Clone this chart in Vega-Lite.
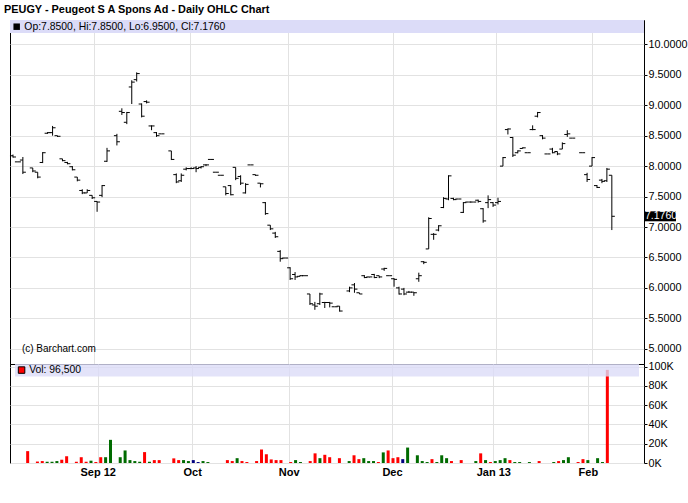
{
  "$schema": "https://vega.github.io/schema/vega-lite/v6.json",
  "padding": {"left": 4, "top": 3, "right": 0, "bottom": 0},
  "spacing": 0,
  "bounds": "flush",
  "title": {"text": "PEUGY - Peugeot S A Spons Ad - Daily OHLC Chart", "anchor": "start", "frame": "group", "dx": -6, "fontSize": 10.9, "fontWeight": "bold", "font": "Liberation Sans", "color": "#000", "offset": 5},
  "config": {
    "view": {"stroke": "#000", "strokeWidth": 1},
    "axis": {"labelFont": "Liberation Sans", "labelColor": "#000", "gridColor": "#e2e2e2", "gridWidth": 1, "tickColor": "#000", "domain": false, "title": null, "labelOverlap": false, "labelBound": false},
    "text": {"font": "Liberation Sans"}
  },
  "datasets": {
    "ohlc": [
      {"t":0,"o":8.17,"h":8.19,"l":8.14,"c":8.15},
      {"t":1,"o":8.07,"h":8.07,"l":8.07,"c":8.07},
      {"t":2,"o":8.10,"h":8.15,"l":7.87,"c":7.90},
      {"t":4,"o":7.97,"h":7.97,"l":7.90,"c":7.92},
      {"t":5,"o":7.90,"h":7.90,"l":7.80,"c":7.82},
      {"t":6,"o":8.06,"h":8.23,"l":8.05,"c":8.22},
      {"t":7,"o":8.54,"h":8.56,"l":8.53,"c":8.55},
      {"t":8,"o":8.55,"h":8.66,"l":8.50,"c":8.63},
      {"t":9,"o":8.50,"h":8.50,"l":8.48,"c":8.49},
      {"t":10,"o":8.12,"h":8.12,"l":8.08,"c":8.09},
      {"t":11,"o":8.06,"h":8.07,"l":8.03,"c":8.04},
      {"t":12,"o":7.99,"h":8.00,"l":7.93,"c":7.94},
      {"t":13,"o":7.82,"h":7.82,"l":7.75,"c":7.77},
      {"t":14,"o":7.60,"h":7.62,"l":7.54,"c":7.56},
      {"t":15,"o":7.56,"h":7.62,"l":7.56,"c":7.60},
      {"t":16,"o":7.52,"h":7.52,"l":7.46,"c":7.48},
      {"t":17,"o":7.42,"h":7.42,"l":7.25,"c":7.41},
      {"t":18,"o":7.52,"h":7.69,"l":7.49,"c":7.68},
      {"t":19,"o":8.08,"h":8.30,"l":8.07,"c":8.25},
      {"t":21,"o":8.50,"h":8.53,"l":8.34,"c":8.40},
      {"t":22,"o":8.90,"h":8.95,"l":8.84,"c":8.88},
      {"t":23,"o":8.72,"h":8.89,"l":8.69,"c":8.88},
      {"t":24,"o":9.30,"h":9.41,"l":9.02,"c":9.38},
      {"t":25,"o":9.42,"h":9.54,"l":9.39,"c":9.52},
      {"t":26,"o":9.02,"h":9.03,"l":8.80,"c":8.82},
      {"t":27,"o":9.06,"h":9.08,"l":9.03,"c":9.05},
      {"t":28,"o":8.66,"h":8.67,"l":8.59,"c":8.66},
      {"t":29,"o":8.55,"h":8.56,"l":8.48,"c":8.50},
      {"t":30,"o":8.53,"h":8.53,"l":8.53,"c":8.53},
      {"t":32,"o":8.25,"h":8.25,"l":8.10,"c":8.11},
      {"t":33,"o":7.86,"h":7.88,"l":7.72,"c":7.74},
      {"t":34,"o":7.76,"h":7.88,"l":7.74,"c":7.85},
      {"t":35,"o":7.95,"h":7.98,"l":7.93,"c":7.96},
      {"t":36,"o":7.96,"h":7.98,"l":7.95,"c":7.96},
      {"t":37,"o":7.97,"h":8.00,"l":7.90,"c":7.96},
      {"t":38,"o":7.98,"h":8.00,"l":7.96,"c":7.99},
      {"t":39,"o":8.02,"h":8.03,"l":8.00,"c":8.02},
      {"t":40,"o":8.11,"h":8.11,"l":8.11,"c":8.11},
      {"t":41,"o":7.90,"h":7.90,"l":7.90,"c":7.90},
      {"t":42,"o":7.85,"h":7.85,"l":7.85,"c":7.85},
      {"t":43,"o":7.66,"h":7.66,"l":7.52,"c":7.55},
      {"t":44,"o":7.68,"h":7.69,"l":7.52,"c":7.53},
      {"t":45,"o":7.98,"h":7.98,"l":7.77,"c":7.80},
      {"t":46,"o":7.83,"h":7.85,"l":7.69,"c":7.72},
      {"t":47,"o":7.56,"h":7.72,"l":7.55,"c":7.70},
      {"t":48,"o":8.02,"h":8.02,"l":8.02,"c":8.02},
      {"t":49,"o":7.86,"h":7.86,"l":7.84,"c":7.85},
      {"t":50,"o":7.72,"h":7.72,"l":7.65,"c":7.71},
      {"t":51,"o":7.40,"h":7.41,"l":7.20,"c":7.22},
      {"t":52,"o":7.03,"h":7.03,"l":6.95,"c":6.97},
      {"t":53,"o":6.90,"h":6.92,"l":6.82,"c":6.84},
      {"t":54,"o":6.60,"h":6.62,"l":6.43,"c":6.48},
      {"t":55,"o":6.49,"h":6.49,"l":6.49,"c":6.49},
      {"t":56,"o":6.33,"h":6.34,"l":6.13,"c":6.15},
      {"t":57,"o":6.22,"h":6.26,"l":6.13,"c":6.18},
      {"t":58,"o":6.19,"h":6.21,"l":6.19,"c":6.20},
      {"t":59,"o":6.20,"h":6.20,"l":6.20,"c":6.20},
      {"t":60,"o":5.90,"h":5.90,"l":5.72,"c":5.74},
      {"t":61,"o":5.72,"h":5.77,"l":5.64,"c":5.70},
      {"t":62,"o":5.74,"h":5.92,"l":5.72,"c":5.90},
      {"t":63,"o":5.76,"h":5.77,"l":5.67,"c":5.76},
      {"t":64,"o":5.76,"h":5.77,"l":5.68,"c":5.75},
      {"t":65,"o":5.69,"h":5.69,"l":5.69,"c":5.69},
      {"t":66,"o":5.70,"h":5.70,"l":5.61,"c":5.62},
      {"t":68,"o":5.95,"h":6.02,"l":5.93,"c":6.00},
      {"t":69,"o":6.05,"h":6.08,"l":5.92,"c":5.98},
      {"t":70,"o":5.92,"h":5.92,"l":5.90,"c":5.90},
      {"t":71,"o":6.20,"h":6.21,"l":6.16,"c":6.17},
      {"t":72,"o":6.18,"h":6.18,"l":6.17,"c":6.18},
      {"t":73,"o":6.22,"h":6.23,"l":6.16,"c":6.17},
      {"t":74,"o":6.20,"h":6.20,"l":6.16,"c":6.18},
      {"t":75,"o":6.31,"h":6.33,"l":6.28,"c":6.32},
      {"t":76,"o":6.20,"h":6.20,"l":6.20,"c":6.20},
      {"t":77,"o":6.15,"h":6.16,"l":6.02,"c":6.14},
      {"t":78,"o":6.00,"h":6.02,"l":5.89,"c":5.90},
      {"t":79,"o":5.98,"h":6.00,"l":5.88,"c":5.90},
      {"t":80,"o":5.93,"h":5.95,"l":5.92,"c":5.93},
      {"t":81,"o":5.93,"h":5.93,"l":5.87,"c":5.92},
      {"t":82,"o":6.15,"h":6.25,"l":6.10,"c":6.20},
      {"t":83,"o":6.43,"h":6.44,"l":6.39,"c":6.42},
      {"t":84,"o":6.64,"h":7.16,"l":6.64,"c":7.14},
      {"t":85,"o":6.88,"h":6.90,"l":6.79,"c":6.88},
      {"t":86,"o":6.95,"h":7.03,"l":6.93,"c":7.02},
      {"t":87,"o":7.32,"h":7.49,"l":7.31,"c":7.47},
      {"t":88,"o":7.46,"h":7.85,"l":7.44,"c":7.84},
      {"t":89,"o":7.47,"h":7.48,"l":7.44,"c":7.45},
      {"t":90,"o":7.46,"h":7.46,"l":7.46,"c":7.46},
      {"t":91,"o":7.24,"h":7.41,"l":7.23,"c":7.40},
      {"t":92,"o":7.41,"h":7.41,"l":7.41,"c":7.41},
      {"t":93,"o":7.41,"h":7.41,"l":7.41,"c":7.41},
      {"t":94,"o":7.44,"h":7.45,"l":7.40,"c":7.42},
      {"t":95,"o":7.30,"h":7.31,"l":7.07,"c":7.10},
      {"t":96,"o":7.40,"h":7.52,"l":7.31,"c":7.45},
      {"t":97,"o":7.40,"h":7.41,"l":7.33,"c":7.36},
      {"t":98,"o":7.40,"h":7.48,"l":7.37,"c":7.42},
      {"t":99,"o":8.00,"h":8.15,"l":8.00,"c":8.14},
      {"t":100,"o":8.60,"h":8.62,"l":8.52,"c":8.61},
      {"t":101,"o":8.47,"h":8.48,"l":8.15,"c":8.18},
      {"t":102,"o":8.22,"h":8.26,"l":8.21,"c":8.25},
      {"t":103,"o":8.29,"h":8.31,"l":8.29,"c":8.30},
      {"t":104,"o":8.22,"h":8.22,"l":8.22,"c":8.22},
      {"t":105,"o":8.60,"h":8.67,"l":8.59,"c":8.60},
      {"t":106,"o":8.82,"h":8.89,"l":8.80,"c":8.88},
      {"t":107,"o":8.50,"h":8.51,"l":8.44,"c":8.46},
      {"t":108,"o":8.20,"h":8.20,"l":8.20,"c":8.20},
      {"t":109,"o":8.28,"h":8.30,"l":8.21,"c":8.22},
      {"t":110,"o":8.24,"h":8.24,"l":8.18,"c":8.20},
      {"t":111,"o":8.28,"h":8.39,"l":8.28,"c":8.37},
      {"t":112,"o":8.52,"h":8.59,"l":8.48,"c":8.53},
      {"t":113,"o":8.46,"h":8.46,"l":8.46,"c":8.46},
      {"t":115,"o":8.22,"h":8.22,"l":8.22,"c":8.22},
      {"t":116,"o":7.86,"h":7.89,"l":7.74,"c":7.78},
      {"t":117,"o":8.00,"h":8.15,"l":8.00,"c":8.14},
      {"t":118,"o":7.68,"h":7.69,"l":7.64,"c":7.65},
      {"t":119,"o":7.77,"h":7.79,"l":7.72,"c":7.75},
      {"t":120,"o":7.76,"h":7.97,"l":7.74,"c":7.95},
      {"t":121,"o":7.85,"h":7.85,"l":6.95,"c":7.176}
    ],
    "vol": [
      {"t":2,"v":12300,"d":"down"},{"t":4,"v":1500,"d":"down"},{"t":5,"v":2000,"d":"down"},
      {"t":6,"v":1300,"d":"up"},{"t":7,"v":1300,"d":"up"},{"t":8,"v":2000,"d":"up"},
      {"t":9,"v":3400,"d":"down"},{"t":10,"v":7000,"d":"down"},{"t":12,"v":1300,"d":"down"},
      {"t":13,"v":6000,"d":"down"},{"t":14,"v":1300,"d":"down"},{"t":15,"v":2400,"d":"up"},
      {"t":16,"v":1000,"d":"down"},{"t":17,"v":6000,"d":"down"},{"t":18,"v":6000,"d":"up"},
      {"t":19,"v":24000,"d":"up"},{"t":21,"v":6000,"d":"up"},{"t":22,"v":13000,"d":"up"},
      {"t":23,"v":3000,"d":"up"},{"t":24,"v":2000,"d":"up"},{"t":25,"v":1300,"d":"up"},
      {"t":26,"v":11300,"d":"down"},{"t":27,"v":1300,"d":"up"},{"t":28,"v":3000,"d":"down"},
      {"t":29,"v":3000,"d":"down"},{"t":32,"v":4800,"d":"down"},{"t":33,"v":3000,"d":"down"},
      {"t":34,"v":3000,"d":"up"},{"t":35,"v":2000,"d":"up"},{"t":36,"v":3000,"d":"flat"},
      {"t":37,"v":1000,"d":"flat"},{"t":38,"v":2000,"d":"up"},{"t":39,"v":1000,"d":"up"},
      {"t":43,"v":3000,"d":"down"},{"t":44,"v":2000,"d":"down"},{"t":45,"v":5000,"d":"up"},
      {"t":46,"v":2000,"d":"down"},{"t":47,"v":1000,"d":"down"},{"t":49,"v":2000,"d":"down"},
      {"t":50,"v":14000,"d":"down"},{"t":51,"v":9000,"d":"down"},{"t":52,"v":3700,"d":"down"},
      {"t":53,"v":3000,"d":"down"},{"t":54,"v":3000,"d":"down"},{"t":56,"v":1000,"d":"down"},
      {"t":57,"v":3000,"d":"up"},{"t":58,"v":1000,"d":"up"},{"t":60,"v":2000,"d":"down"},
      {"t":61,"v":10000,"d":"down"},{"t":62,"v":5000,"d":"up"},{"t":63,"v":8500,"d":"down"},
      {"t":64,"v":6000,"d":"down"},{"t":66,"v":5000,"d":"down"},{"t":68,"v":2000,"d":"up"},
      {"t":69,"v":8000,"d":"down"},{"t":70,"v":4000,"d":"down"},{"t":71,"v":5000,"d":"up"},
      {"t":72,"v":2000,"d":"up"},{"t":73,"v":2000,"d":"up"},{"t":74,"v":1000,"d":"down"},
      {"t":75,"v":11000,"d":"up"},{"t":76,"v":13000,"d":"down"},{"t":77,"v":5000,"d":"down"},
      {"t":78,"v":6000,"d":"down"},{"t":79,"v":4000,"d":"flat"},{"t":80,"v":16000,"d":"up"},
      {"t":82,"v":8000,"d":"up"},{"t":83,"v":2000,"d":"up"},{"t":84,"v":1000,"d":"up"},
      {"t":85,"v":4000,"d":"down"},{"t":86,"v":1000,"d":"up"},{"t":87,"v":8000,"d":"up"},
      {"t":88,"v":5000,"d":"up"},{"t":89,"v":2000,"d":"down"},{"t":91,"v":3000,"d":"down"},
      {"t":94,"v":2000,"d":"up"},{"t":95,"v":10000,"d":"down"},{"t":96,"v":3000,"d":"up"},
      {"t":97,"v":1000,"d":"down"},{"t":98,"v":2000,"d":"up"},{"t":99,"v":3000,"d":"up"},
      {"t":100,"v":5000,"d":"up"},{"t":101,"v":3000,"d":"down"},{"t":102,"v":1000,"d":"up"},
      {"t":103,"v":1000,"d":"up"},{"t":105,"v":1000,"d":"up"},{"t":107,"v":2000,"d":"down"},
      {"t":110,"v":1000,"d":"up"},{"t":111,"v":2000,"d":"down"},{"t":112,"v":3000,"d":"up"},
      {"t":113,"v":6000,"d":"up"},{"t":115,"v":1000,"d":"down"},{"t":116,"v":4000,"d":"down"},
      {"t":117,"v":3000,"d":"up"},{"t":119,"v":5000,"d":"up"},{"t":120,"v":1000,"d":"up"},
      {"t":121,"v":96500,"d":"down"}
    ],
    "note": [{}]
  },
  "vconcat": [
    {
      "width": 634,
      "height": 344,
      "layer": [
        {
          "data": {"name": "ohlc"},
          "mark": {"type": "rule", "color": "#000", "strokeWidth": 1},
          "encoding": {
            "x": {"field": "t", "type": "quantitative", "scale": {"domain": [-0.6, 127.5], "nice": false, "zero": false},
                  "axis": {"values": [16.37, 35.77, 55.57, 76.79, 97.6, 117.0], "tickCount": 20, "grid": true, "labels": false, "ticks": false}},
            "y": {"field": "l", "type": "quantitative", "scale": {"domain": [4.75, 10.4], "nice": false, "zero": false},
                  "axis": {"orient": "right", "values": [5, 5.5, 6, 6.5, 7, 7.5, 8, 8.5, 9, 9.5, 10], "tickCount": 20, "format": ".4f", "labelFontSize": 10.8, "tickSize": 3, "labelPadding": 1, "labelOverlap": false}},
            "y2": {"field": "h"}
          }
        },
        {
          "data": {"name": "ohlc"},
          "mark": {"type": "rule", "color": "#000", "strokeWidth": 1, "xOffset": -3},
          "encoding": {"x": {"field": "t", "type": "quantitative"}, "x2": {"field": "t"}, "y": {"field": "o", "type": "quantitative"}}
        },
        {
          "data": {"name": "ohlc"},
          "mark": {"type": "rule", "color": "#000", "strokeWidth": 1, "x2Offset": 3},
          "encoding": {"x": {"field": "t", "type": "quantitative"}, "x2": {"field": "t"}, "y": {"field": "c", "type": "quantitative"}}
        },
        {
          "data": {"name": "note"},
          "mark": {"type": "rect", "color": "#dcdcf8"},
          "encoding": {"x": {"datum": -0.6}, "x2": {"datum": 127.5}, "y": {"datum": 10.4}, "y2": {"datum": 10.187}}
        },
        {
          "data": {"name": "note"},
          "mark": {"type": "square", "size": 42, "color": "#000", "opacity": 1},
          "encoding": {"x": {"datum": 0.75}, "y": {"datum": 10.29}}
        },
        {
          "data": {"name": "note"},
          "mark": {"type": "text", "align": "left", "baseline": "middle", "fontSize": 10.4, "color": "#000"},
          "encoding": {"x": {"datum": 2.3}, "y": {"datum": 10.29}, "text": {"value": "Op:7.8500, Hi:7.8500, Lo:6.9500, Cl:7.1760"}}
        },
        {
          "data": {"name": "note"},
          "mark": {"type": "text", "align": "left", "baseline": "middle", "fontSize": 10, "color": "#000"},
          "encoding": {"x": {"datum": 1.8}, "y": {"datum": 4.99}, "text": {"value": "(c) Barchart.com"}}
        },
        {
          "data": {"name": "note"},
          "mark": {"type": "rect", "color": "#000", "xOffset": 0, "x2Offset": 32, "yOffset": -5, "y2Offset": 5},
          "encoding": {"x": {"datum": 127.5}, "x2": {"datum": 127.5}, "y": {"datum": 7.176}, "y2": {"datum": 7.176}}
        },
        {
          "data": {"name": "note"},
          "mark": {"type": "text", "align": "left", "baseline": "middle", "fontSize": 10.5, "color": "#fff", "dx": 1},
          "encoding": {"x": {"datum": 127.5}, "y": {"datum": 7.176}, "text": {"value": "7.1760"}}
        }
      ]
    },
    {
      "width": 634,
      "height": 99,
      "layer": [
        {
          "data": {"name": "vol"},
          "mark": {"type": "bar", "size": 3},
          "encoding": {
            "x": {"field": "t", "type": "quantitative", "scale": {"domain": [-0.6, 127.5], "nice": false, "zero": false},
                  "axis": {"values": [16.37, 35.77, 55.57, 76.79, 97.6, 117.0], "tickCount": 20, "grid": true, "tickSize": 0, "labelFontSize": 11, "labelFontWeight": "bold", "labelPadding": 3, "labelOverlap": false,
                           "labelExpr": "datum.value < 20 ? 'Sep 12' : datum.value < 40 ? 'Oct' : datum.value < 60 ? 'Nov' : datum.value < 80 ? 'Dec' : datum.value < 100 ? 'Jan 13' : 'Feb'"}},
            "y": {"field": "v", "type": "quantitative", "scale": {"domain": [0, 102600], "nice": false},
                  "axis": {"orient": "right", "values": [0, 20000, 40000, 60000, 80000, 100000], "tickCount": 20, "labelExpr": "(datum.value / 1000) + 'K'", "labelFontSize": 10.8, "tickSize": 3, "labelPadding": 1, "labelOverlap": false}},
            "color": {"field": "d", "type": "nominal", "scale": {"domain": ["up", "down", "flat"], "range": ["#006b00", "#ff0000", "#000080"]}, "legend": null}
          }
        },
        {
          "data": {"name": "note"},
          "mark": {"type": "rect", "color": "#dcdcf8", "opacity": 0.8},
          "encoding": {"x": {"datum": -0.6}, "x2": {"datum": 127.5}, "y": {"datum": 102600}, "y2": {"datum": 89700}}
        },
        {
          "data": {"name": "note"},
          "mark": {"type": "square", "size": 42, "color": "#ff0000", "opacity": 1, "stroke": "#000", "strokeWidth": 1},
          "encoding": {"x": {"datum": 0.75}, "y": {"datum": 96300}}
        },
        {
          "data": {"name": "note"},
          "mark": {"type": "text", "align": "left", "baseline": "middle", "fontSize": 10.4, "color": "#000"},
          "encoding": {"x": {"datum": 2.3}, "y": {"datum": 96300}, "text": {"value": "Vol: 96,500"}}
        }
      ]
    }
  ]
}
